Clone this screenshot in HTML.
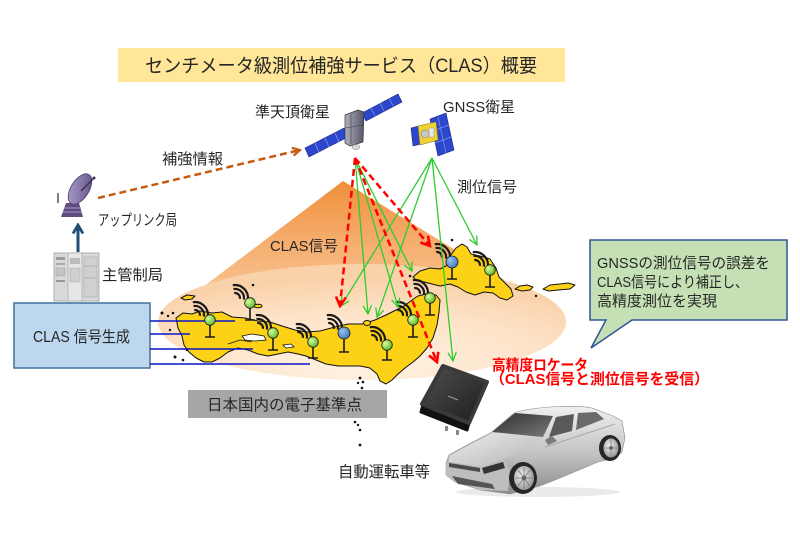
<!DOCTYPE html>
<html><head><meta charset="utf-8"><style>
html,body{margin:0;padding:0;background:#fff;}
svg{display:block;}
text{font-family:"Liberation Sans","Noto Sans CJK JP",sans-serif;fill:#262626;}
</style></head><body>
<svg width="800" height="533" viewBox="0 0 800 533" xmlns="http://www.w3.org/2000/svg">
<defs>
<linearGradient id="cone" x1="0" y1="181" x2="0" y2="322" gradientUnits="userSpaceOnUse">
<stop offset="0" stop-color="#f08f3a"/><stop offset="0.4" stop-color="#f5ab6a"/><stop offset="1" stop-color="#fad0a6"/></linearGradient>
<radialGradient id="ell" cx="0.5" cy="0.85" r="0.72"><stop offset="0" stop-color="#fff3e4"/><stop offset="0.6" stop-color="#fde3c8"/><stop offset="1" stop-color="#fad2aa"/></radialGradient>
<radialGradient id="gpin" cx="0.35" cy="0.35" r="0.7"><stop offset="0" stop-color="#d8ff9e"/><stop offset="1" stop-color="#5bb526"/></radialGradient>
<radialGradient id="bpin" cx="0.35" cy="0.35" r="0.7"><stop offset="0" stop-color="#9cc4f0"/><stop offset="1" stop-color="#3f78c0"/></radialGradient>
<linearGradient id="dish" x1="0" y1="0" x2="1" y2="1"><stop offset="0" stop-color="#b2a6d0"/><stop offset="1" stop-color="#5c4c80"/></linearGradient>
<linearGradient id="qbody" x1="0" y1="0" x2="1" y2="0"><stop offset="0" stop-color="#b0b0bc"/><stop offset="1" stop-color="#55556a"/></linearGradient>
<linearGradient id="recv" x1="0" y1="0" x2="1" y2="1"><stop offset="0" stop-color="#505050"/><stop offset="1" stop-color="#1c1c1c"/></linearGradient>
<linearGradient id="carB" x1="0" y1="0" x2="0" y2="1"><stop offset="0" stop-color="#f0f0f0"/><stop offset="0.55" stop-color="#c2c2c2"/><stop offset="1" stop-color="#8a8a8a"/></linearGradient>
<linearGradient id="hood" x1="0" y1="0" x2="1" y2="1"><stop offset="0" stop-color="#ececec"/><stop offset="1" stop-color="#b4b4b4"/></linearGradient>
<linearGradient id="wind" x1="0" y1="0" x2="1" y2="1"><stop offset="0" stop-color="#2e2e2e"/><stop offset="1" stop-color="#7a7a7a"/></linearGradient>
<radialGradient id="rim" cx="0.4" cy="0.4" r="0.7"><stop offset="0" stop-color="#f2f2f2"/><stop offset="1" stop-color="#8c8c8c"/></radialGradient>
<marker id="mr" viewBox="0 0 12 12" refX="10" refY="6" markerWidth="12" markerHeight="12" orient="auto" markerUnits="userSpaceOnUse"><path d="M1,1 L10,6 L1,11" fill="none" stroke="#ff0000" stroke-width="2.6"/></marker>
<marker id="mg" viewBox="0 0 10 10" refX="9" refY="5" markerWidth="10" markerHeight="10" orient="auto" markerUnits="userSpaceOnUse"><path d="M0.5,0.8 L9,5 L0.5,9.2" fill="none" stroke="#2ecc2e" stroke-width="1.3"/></marker>
<marker id="mo" viewBox="0 0 10 10" refX="8.5" refY="5" markerWidth="10" markerHeight="10" orient="auto" markerUnits="userSpaceOnUse"><path d="M1,1 L8.5,5 L1,9" fill="none" stroke="#c55a11" stroke-width="2.2"/></marker>
<marker id="mb" viewBox="0 0 12 12" refX="10" refY="6" markerWidth="12" markerHeight="12" orient="auto" markerUnits="userSpaceOnUse"><path d="M1.5,1 L10,6 L1.5,11" fill="none" stroke="#1f4e79" stroke-width="2.8"/></marker>
<g id="wv" fill="none" stroke="#1a1a1a" stroke-width="2.2">
<path d="M-0.8,-4.9 A5,5 0 0 1 4.9,0.8"/>
<path d="M-1.5,-8.9 A9,9 0 0 1 8.9,1.5"/>
<path d="M-2.2,-12.8 A13,13 0 0 1 12.8,2.2"/>
</g>
</defs>

<rect width="800" height="533" fill="#fff"/>

<!-- title -->
<rect x="118" y="48" width="447" height="34" fill="#ffe699"/>
<text x="145" y="72" font-size="19" textLength="392" lengthAdjust="spacingAndGlyphs">センチメータ級測位補強サービス（CLAS）概要</text>

<!-- cone -->
<polygon points="343,181 162,318 566,318" fill="url(#cone)"/>
<ellipse cx="362" cy="322" rx="204" ry="58" fill="url(#ell)"/>

<!-- Japan map -->
<g stroke="#111" stroke-width="1" stroke-linejoin="round" fill="#fcd116">
<polygon points="176,318 183,313 192,314 200,311 212,313 222,312 232,317 245,318 258,321 270,322 282,326 295,330 307,332 320,331 335,327 348,324 362,324 375,320 386,315 396,310 404,306 412,300 418,296 426,294 436,295 440,300 439,312 437,325 433,338 427,348 420,356 413,362 405,368 398,374 392,380 386,384 380,381 377,374 370,368 360,366 350,366 338,366 326,364 316,360 306,356 298,354 288,352 278,354 268,356 258,354 248,350 238,348 228,352 220,358 212,362 204,362 196,358 189,352 184,345 182,336 178,328"/>
<polygon points="413,277 420,271 430,268 440,269 446,266 450,256 456,248 462,244 467,247 471,254 480,256 490,259 496,268 499,277 505,283 511,289 513,296 507,300 500,298 493,293 484,292 475,295 466,292 458,287 450,284 440,286 432,284 424,282 417,281"/>
<polygon points="515,289 520,286 527,285 533,287 530,290 522,291"/>
<polygon points="543,289 550,285 560,284 568,283 575,285 570,289 558,290 549,291"/>
<ellipse cx="367" cy="323" rx="3.5" ry="2.5"/>
<polygon points="181,298 187,295 195,296 192,299 185,300"/>
<ellipse cx="258" cy="306" rx="4" ry="1.8"/>
</g>
<polygon points="242,336 252,334 264,336 266,340 255,341 245,340" fill="#fff" stroke="#111" stroke-width="0.8"/>
<polygon points="283,345 291,344 294,347 286,348" fill="#fff" stroke="#111" stroke-width="0.8"/>
<path d="M228,344 L240,340 L252,342" fill="none" stroke="#111" stroke-width="0.8"/>
<g fill="#111">
<circle cx="162" cy="313" r="1.5"/><circle cx="168" cy="316" r="1.2"/><circle cx="173" cy="313" r="1.3"/>
<circle cx="175" cy="357" r="1.5"/><circle cx="183" cy="360" r="1.3"/><circle cx="187" cy="350" r="1.2"/>
<circle cx="170" cy="330" r="1.2"/><circle cx="253" cy="285" r="1.3"/><circle cx="452" cy="240" r="1.3"/>
<circle cx="410" cy="276" r="1.3"/><circle cx="536" cy="296" r="1.2"/>
<circle cx="360" cy="378" r="1.4"/><circle cx="363" cy="382" r="1.3"/><circle cx="358" cy="383" r="1.2"/><circle cx="362" cy="388" r="1.3"/>
<circle cx="355" cy="422" r="1.3"/><circle cx="358" cy="425" r="1.2"/><circle cx="360" cy="430" r="1.3"/><circle cx="360" cy="445" r="1.4"/>
</g>

<!-- CLAS box and lines -->
<rect x="14" y="303" width="136" height="65" fill="#bdd7ee" stroke="#41719c" stroke-width="1.5"/>
<text x="33" y="342" font-size="15.5" textLength="97" lengthAdjust="spacingAndGlyphs">CLAS 信号生成</text>
<g stroke="#0a14c8" stroke-width="1.4">
<line x1="150" y1="321" x2="235" y2="321"/>
<line x1="150" y1="334" x2="190" y2="334"/>
<line x1="150" y1="349" x2="253" y2="349"/>
<line x1="150" y1="364" x2="310" y2="364"/>
</g>

<!-- waves -->
<use href="#wv" x="195" y="315"/>
<use href="#wv" x="235" y="298"/>
<use href="#wv" x="258" y="328"/>
<use href="#wv" x="298" y="337"/>
<use href="#wv" x="329" y="328"/>
<use href="#wv" x="372" y="340"/>
<use href="#wv" x="398" y="315"/>
<use href="#wv" x="415" y="293"/>
<use href="#wv" x="437" y="257"/>
<use href="#wv" x="475" y="265"/>

<!-- pins -->
<g stroke="#1a1a1a">
<g stroke-width="1.6">
<path d="M210,325 V337 M205,337 H215"/><path d="M250,308 V320 M245,320 H255"/>
<path d="M273,338 V350 M268,350 H278"/><path d="M313,347 V358 M308,358 H318"/>
<path d="M344,339 V352 M339,352 H349"/><path d="M387,350 V360 M382,360 H392"/>
<path d="M413,325 V337 M408,337 H418"/><path d="M430,303 V315 M425,315 H435"/>
<path d="M452,268 V279 M447,279 H457"/><path d="M490,275 V287 M485,287 H495"/>
</g>
<g stroke-width="0.8" fill="url(#gpin)">
<circle cx="210" cy="320" r="5.3"/><circle cx="250" cy="303" r="5.3"/><circle cx="273" cy="333" r="5.3"/>
<circle cx="313" cy="342" r="5.3"/><circle cx="387" cy="345" r="5.3"/><circle cx="413" cy="320" r="5.3"/>
<circle cx="430" cy="298" r="5.3"/><circle cx="490" cy="270" r="5.3"/>
</g>
<g stroke-width="0.8" fill="url(#bpin)">
<circle cx="344" cy="333" r="6"/><circle cx="452" cy="262" r="6"/>
</g>
</g>

<!-- signal lines -->
<g fill="none">
<g stroke="#2ecc2e" stroke-width="1.3" marker-end="url(#mg)">
<line x1="355" y1="158" x2="368" y2="314"/>
<line x1="355" y1="158" x2="398" y2="307"/>
<line x1="355" y1="158" x2="412" y2="271"/>
<line x1="432" y1="158" x2="341" y2="306"/>
<line x1="432" y1="158" x2="377" y2="317"/>
<line x1="432" y1="158" x2="453" y2="361"/>
<line x1="432" y1="158" x2="477" y2="245"/>
</g>
<g stroke="#ff0000" stroke-width="2.5" stroke-dasharray="7 4" marker-end="url(#mr)">
<line x1="355" y1="158" x2="340" y2="306"/>
<line x1="355" y1="158" x2="430" y2="246"/>
<line x1="355" y1="158" x2="437" y2="362"/>
</g>
<line x1="98" y1="198" x2="300" y2="150" stroke="#c55a11" stroke-width="2.5" stroke-dasharray="7 4" marker-end="url(#mo)"/>
<line x1="78" y1="252" x2="78" y2="225" stroke="#1f4e79" stroke-width="3" marker-end="url(#mb)"/>
</g>

<!-- QZS satellite -->
<g stroke="#1a2880" stroke-width="0.6">
<polygon points="305,148 344,128 348,137 309,157" fill="#2c46cc"/>
<polygon points="362,113 398,94 402,102 366,121" fill="#2c46cc"/>
</g>
<g stroke="#7f95f0" stroke-width="0.8">
<line x1="315" y1="143" x2="319" y2="152"/><line x1="325" y1="138" x2="329" y2="147"/><line x1="335" y1="133" x2="339" y2="142"/>
<line x1="371" y1="108" x2="375" y2="116"/><line x1="380" y1="103" x2="384" y2="111"/><line x1="389" y1="98" x2="393" y2="106"/>
</g>
<polygon points="345,115 358,110 364,112 363,142 350,146 345,143" fill="url(#qbody)" stroke="#333" stroke-width="0.7"/>
<line x1="351" y1="114" x2="351" y2="144" stroke="#444" stroke-width="0.6"/>
<line x1="345" y1="128" x2="363" y2="125" stroke="#444" stroke-width="0.6"/>
<ellipse cx="356" cy="147" rx="4" ry="2.5" fill="#d8d8d8" stroke="#777" stroke-width="0.5"/>

<!-- GNSS satellite -->
<polygon points="430,119 446,113 454,150 438,156" fill="#2c46cc" stroke="#1a2880" stroke-width="0.6"/>
<g stroke="#7f95f0" stroke-width="0.7"><line x1="433" y1="131" x2="449" y2="125"/><line x1="435" y1="143" x2="451" y2="137"/><line x1="438" y1="117" x2="446" y2="153"/></g>
<polygon points="411,128 419,126 421,144 413,146" fill="#2c46cc" stroke="#1a2880" stroke-width="0.6"/>
<polygon points="418,126 436,122 438,140 420,145" fill="#f2d230" stroke="#8a7a20" stroke-width="0.6"/>
<circle cx="425" cy="134" r="4" fill="#c8c8c8" stroke="#777" stroke-width="0.5"/>
<rect x="429" y="128" width="5" height="9" fill="#e8e8e8" stroke="#888" stroke-width="0.4"/>

<!-- dish -->
<g>
<polygon points="66,203 79,203 83,217 61,217" fill="#5e4c7e"/>
<line x1="64" y1="208" x2="81" y2="208" stroke="#a898c8" stroke-width="1"/>
<line x1="63" y1="212" x2="82" y2="212" stroke="#a898c8" stroke-width="1"/>
<line x1="73" y1="203" x2="76" y2="195" stroke="#4a3a6a" stroke-width="3"/>
<ellipse cx="80" cy="189" rx="17" ry="9" transform="rotate(-58 80 189)" fill="url(#dish)" stroke="#4a3a6a" stroke-width="0.8"/>
<line x1="81" y1="191" x2="94" y2="178" stroke="#3a2a5a" stroke-width="1.4"/>
<circle cx="94" cy="178" r="1.5" fill="#3a2a5a"/>
<line x1="58" y1="193" x2="58" y2="203" stroke="#555" stroke-width="1.5"/>
</g>

<!-- server -->
<g>
<rect x="54" y="253" width="45" height="48" fill="#d9d9d9" stroke="#a0a0a0" stroke-width="0.8"/>
<rect x="68" y="253" width="14" height="48" fill="#e6e6e6" stroke="#a0a0a0" stroke-width="0.6"/>
<rect x="56" y="257" width="9" height="3" fill="#9a9a9a"/>
<rect x="56" y="263" width="9" height="2" fill="#aaa"/>
<rect x="56" y="268" width="9" height="8" fill="#c4c4c4" stroke="#999" stroke-width="0.4"/>
<rect x="56" y="280" width="9" height="2" fill="#999"/>
<rect x="70" y="258" width="10" height="6" fill="#bbb"/>
<rect x="70" y="268" width="10" height="14" fill="#cfcfcf" stroke="#999" stroke-width="0.4"/>
<rect x="84" y="257" width="13" height="40" fill="#d0d0d0" stroke="#999" stroke-width="0.4"/>
<line x1="84" y1="266" x2="97" y2="266" stroke="#999" stroke-width="0.5"/>
<line x1="84" y1="278" x2="97" y2="278" stroke="#999" stroke-width="0.5"/>
</g>

<!-- labels -->
<text x="255" y="117" font-size="15" textLength="75" lengthAdjust="spacingAndGlyphs">準天頂衛星</text>
<text x="443" y="112" font-size="15" textLength="72" lengthAdjust="spacingAndGlyphs">GNSS衛星</text>
<text x="162" y="164" font-size="15" textLength="61" lengthAdjust="spacingAndGlyphs">補強情報</text>
<text x="457" y="192" font-size="15" textLength="60" lengthAdjust="spacingAndGlyphs">測位信号</text>
<text x="98" y="225" font-size="15" textLength="79" lengthAdjust="spacingAndGlyphs">アップリンク局</text>
<text x="102" y="280" font-size="15" textLength="61" lengthAdjust="spacingAndGlyphs">主管制局</text>
<text x="270" y="251" font-size="15" textLength="68" lengthAdjust="spacingAndGlyphs">CLAS信号</text>

<!-- callout -->
<path d="M590,240 H787 V320 H632 L591,348 L606,320 H590 Z" fill="#c5e0b4" stroke="#2f5597" stroke-width="1.5"/>
<text x="597" y="268" font-size="15" textLength="173" lengthAdjust="spacingAndGlyphs">GNSSの測位信号の誤差を</text>
<text x="597" y="287" font-size="15" textLength="151" lengthAdjust="spacingAndGlyphs">CLAS信号により補正し、</text>
<text x="597" y="306" font-size="15" textLength="120" lengthAdjust="spacingAndGlyphs">高精度測位を実現</text>

<!-- red text -->
<text x="492" y="370" font-size="15" font-weight="bold" style="fill:#ff0000" textLength="96" lengthAdjust="spacingAndGlyphs">高精度ロケータ</text>
<text x="490" y="384" font-size="15" font-weight="bold" style="fill:#ff0000" textLength="219" lengthAdjust="spacingAndGlyphs">（CLAS信号と測位信号を受信）</text>

<!-- gray box -->
<rect x="188" y="390" width="199" height="28" fill="#a6a6a6"/>
<text x="207" y="410" font-size="15.5" textLength="155" lengthAdjust="spacingAndGlyphs">日本国内の電子基準点</text>

<text x="338" y="477" font-size="15.5" textLength="92" lengthAdjust="spacingAndGlyphs">自動運転車等</text>

<!-- receiver -->
<g stroke-linejoin="round">
<polygon points="423,405 469,423 467,430 421,412" fill="#111" stroke="#111" stroke-width="3"/>
<polygon points="443,366 487,382 469,423 422,404" fill="url(#recv)" stroke="#3a3a3a" stroke-width="4"/>
<line x1="448" y1="396" x2="458" y2="400" stroke="#999" stroke-width="1.2"/>
<rect x="445" y="426" width="3" height="5" fill="#888"/>
<rect x="456" y="430" width="3" height="5" fill="#888"/>
</g>

<!-- car -->
<g>
<ellipse cx="538" cy="492" rx="82" ry="5" fill="#eaeaea"/>
<path d="M446,463 L449,455 C470,443 485,436 492,432 L514,413 C535,406 575,405 592,408 L613,416 L622,421 L625,438 L622,452 L615,458 L598,462 L560,478 L540,486 L510,494 L480,490 L455,482 L446,475 Z" fill="url(#carB)" stroke="#8a8a8a" stroke-width="0.6"/>
<path d="M449,456 C470,445 486,437 493,433 L543,437 C532,447 508,458 482,467 L449,462 Z" fill="url(#hood)"/>
<path d="M446,463 L482,467 L505,460 L510,472 L508,491 L480,490 L455,482 L446,475 Z" fill="#bdbdbd"/>
<polygon points="449,463 480,468 480,472 449,467" fill="#4a4a4a"/>
<polygon points="482,468 503,462 505,468 484,474" fill="#333"/>
<polygon points="452,476 492,484 495,489 458,484" fill="#555"/>
<polygon points="492,432 515,413 553,416 543,437" fill="url(#wind)"/>
<polygon points="556,417 574,414 572,431 549,437" fill="#5a5a5a"/>
<polygon points="578,413 596,412 604,419 576,430" fill="#6a6a6a"/>
<polygon points="545,440 552,436 557,441 548,445" fill="#7a7a7a"/>
<path d="M545,447 L615,424" stroke="#a8a8a8" stroke-width="1" fill="none"/>
<ellipse cx="523" cy="478" rx="14" ry="16" fill="#262626"/>
<ellipse cx="524" cy="478" rx="10" ry="12" fill="url(#rim)"/>
<g stroke="#777" stroke-width="0.8"><line x1="524" y1="467" x2="524" y2="489"/><line x1="515" y1="478" x2="533" y2="478"/><line x1="518" y1="470" x2="530" y2="486"/><line x1="530" y1="470" x2="518" y2="486"/></g>
<circle cx="524" cy="478" r="2.5" fill="#666"/>
<ellipse cx="610" cy="448" rx="11" ry="13" fill="#262626"/>
<ellipse cx="611" cy="448" rx="7.5" ry="9.5" fill="url(#rim)"/>
<g stroke="#777" stroke-width="0.7"><line x1="611" y1="439" x2="611" y2="457"/><line x1="604" y1="448" x2="618" y2="448"/></g>
<circle cx="611" cy="448" r="2" fill="#666"/>
</g>
</svg>
</body></html>
